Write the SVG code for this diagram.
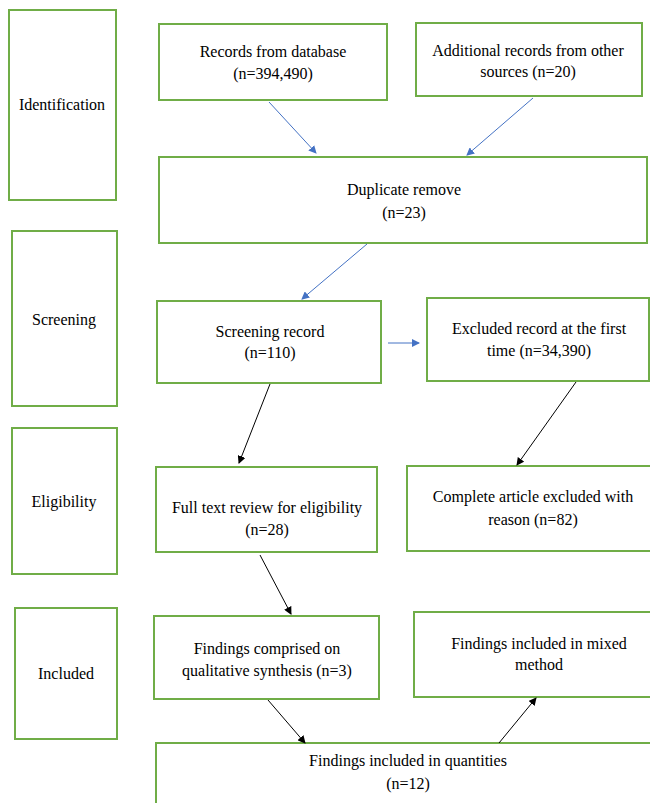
<svg xmlns="http://www.w3.org/2000/svg" width="650" height="803" viewBox="0 0 650 803">
<style>
.box{fill:#fff;stroke:#70AD47;stroke-width:2}
.t text{font-size:16px;fill:#000;text-anchor:middle}
.blue{stroke:#4472C4;stroke-width:1;fill:none;marker-end:url(#ab)}
.blk{stroke:#000;stroke-width:1;fill:none;marker-end:url(#ak)}
</style>
<defs>
<marker id="ab" markerWidth="8" markerHeight="8" refX="7" refY="4" orient="auto" markerUnits="userSpaceOnUse"><path d="M0,0 L8,4 L0,8 z" fill="#4472C4"/></marker>
<marker id="ak" markerWidth="8" markerHeight="8" refX="7" refY="4" orient="auto" markerUnits="userSpaceOnUse"><path d="M0,0 L8,4 L0,8 z" fill="#000"/></marker>
</defs>
<rect width="650" height="803" fill="#fff"/>
<g class="t" font-family="'Liberation Serif', 'Times New Roman', 'DejaVu Serif', serif">
<g id="identification"><rect class="box" x="9" y="10" width="107" height="190"/><text x="62" y="110">Identification</text></g>
<g id="screening"><rect class="box" x="12" y="231" width="105" height="175"/><text x="64" y="325">Screening</text></g>
<g id="eligibility"><rect class="box" x="12" y="428" width="105" height="146"/><text x="64" y="507">Eligibility</text></g>
<g id="included"><rect class="box" x="15" y="608" width="102" height="131"/><text x="66" y="679">Included</text></g>
<g id="records-db"><rect class="box" x="159" y="24" width="228" height="76"/><text x="273" y="57">Records from database</text><text x="273" y="79">(n=394,490)</text></g>
<g id="additional"><rect class="box" x="416" y="23" width="226" height="73"/><text x="528" y="56">Additional records from other</text><text x="528" y="77">sources (n=20)</text></g>
<g id="duplicate"><rect class="box" x="159" y="157" width="488" height="86"/><text x="404" y="195">Duplicate remove</text><text x="404" y="218">(n=23)</text></g>
<g id="screening-record"><rect class="box" x="157" y="301" width="224" height="82"/><text x="270" y="337">Screening record</text><text x="270" y="358">(n=110)</text></g>
<g id="excluded"><rect class="box" x="427" y="298" width="222" height="83"/><text x="539" y="334">Excluded record at the first</text><text x="539" y="356">time (n=34,390)</text></g>
<g id="full-text"><rect class="box" x="156" y="467" width="221" height="85"/><text x="267" y="513">Full text review for eligibility</text><text x="267" y="535">(n=28)</text></g>
<g id="complete-article"><rect class="box" x="407" y="466" width="245" height="85"/><text x="533" y="502">Complete article excluded with</text><text x="533" y="525">reason (n=82)</text></g>
<g id="qualitative"><rect class="box" x="154" y="616" width="225" height="83"/><text x="267" y="654">Findings comprised on</text><text x="267" y="676">qualitative synthesis (n=3)</text></g>
<g id="mixed"><rect class="box" x="414" y="612" width="240" height="85"/><text x="539" y="649">Findings included in mixed</text><text x="539" y="670">method</text></g>
<g id="quantities"><rect class="box" x="156" y="743" width="500" height="80"/><text x="408" y="766">Findings included in quantities</text><text x="408" y="789">(n=12)</text></g>
</g>
<g id="connectors">
<line class="blue" x1="269" y1="102" x2="316" y2="153"/>
<line class="blue" x1="533" y1="98" x2="467" y2="155"/>
<line class="blue" x1="367" y1="244" x2="302" y2="299"/>
<line class="blue" x1="388" y1="343" x2="419" y2="343"/>
<line class="blk" x1="270" y1="384" x2="239" y2="463"/>
<line class="blk" x1="576" y1="382" x2="517" y2="465"/>
<line class="blk" x1="260" y1="555" x2="291" y2="614"/>
<line class="blk" x1="268" y1="700" x2="305" y2="743"/>
<line class="blk" x1="499" y1="743" x2="536" y2="698"/>
</g>
</svg>
